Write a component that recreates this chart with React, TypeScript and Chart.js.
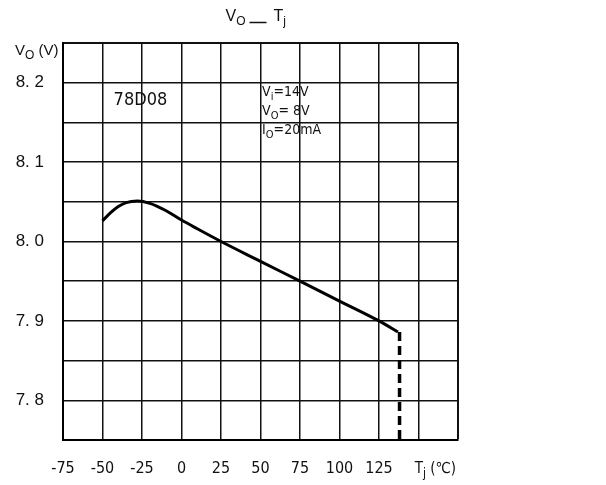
import React, { useEffect, useRef } from 'react';
import { Chart, registerables } from 'chart.js';

Chart.register(...registerables);

// ---- data ----
const curveTemps = [-50, -45, -40, -35, -28, -20, -10, 0, 10, 25, 50, 75, 100, 125, 137];
const curveVolts = [8.026, 8.036, 8.044, 8.049, 8.051, 8.048, 8.039, 8.027, 8.016, 8.0, 7.975, 7.95, 7.925, 7.9, 7.886];
const cutoffTemps = [138, 138];
const cutoffVolts = [7.886, 7.75];
const xTickValues = [-75, -50, -25, 0, 25, 50, 75, 100, 125, 150, 175];
const xTickLabels = ['-75', '-50', '-25', '0', '25', '50', '75', '100', '125', '', ''];
const yTickValues = [7.8, 7.9, 8.0, 8.1, 8.2];
const yTickLabels = ['7. 8', '7. 9', '8. 0', '8. 1', '8. 2'];
const partName = '78D08';
const conditions = [
  [['V', false], ['i', true], ['=14V', false]],
  [['V', false], ['O', true], ['= 8V', false]],
  [['I', false], ['O', true], ['=20mA', false]],
] as [string, boolean][][];

const NARROW = "'Liberation Sans Narrow', 'DejaVu Sans Condensed', sans-serif";
const SANS = "'Liberation Sans', Arial, sans-serif";

function drawRich(
  ctx: CanvasRenderingContext2D,
  parts: [string, boolean][],
  x: number,
  y: number,
  size: number,
  family: string,
  align: 'left' | 'center' | 'right'
) {
  const subSize = Math.round(size * 0.78);
  let total = 0;
  const widths: number[] = [];
  for (const [t, sub] of parts) {
    ctx.font = `${sub ? subSize : size}px ${family}`;
    const w = ctx.measureText(t).width;
    widths.push(w);
    total += w;
  }
  let cx = align === 'left' ? x : align === 'center' ? x - total / 2 : x - total;
  ctx.textAlign = 'left';
  ctx.textBaseline = 'alphabetic';
  parts.forEach(([t, sub], i) => {
    ctx.font = `${sub ? subSize : size}px ${family}`;
    ctx.fillText(t, cx, sub ? y + size * 0.28 : y);
    cx += widths[i];
  });
}

const textPlugin = {
  id: 'datasheetText',
  afterDraw(chart: any) {
    const ctx: CanvasRenderingContext2D = chart.ctx;
    const xs = chart.scales.x;
    const ys = chart.scales.y;
    const area = chart.chartArea;
    ctx.save();
    ctx.fillStyle = '#111';
    ctx.strokeStyle = '#111';

    // title  V_O ___ T_j
    const cx = (area.left + area.right) / 2 - 2;
    drawRich(ctx, [['V', false], ['O', true]], cx - 13, 21, 16, SANS, 'right');
    ctx.lineWidth = 1.5;
    ctx.beginPath();
    ctx.moveTo(cx - 9, 22.5);
    ctx.lineTo(cx + 8, 22.5);
    ctx.stroke();
    drawRich(ctx, [['T', false], ['j', true]], cx + 15, 21, 16, SANS, 'left');

    // y axis title
    drawRich(ctx, [['V', false], ['O', true], [' (V)', false]], 15, 55, 15, SANS, 'left');

    // x axis title
    drawRich(ctx, [['T', false], ['j', true], [' (℃)', false]], area.right - 2, 473, 15, NARROW, 'right');

    // part name
    ctx.font = `18px ${NARROW}`;
    ctx.textAlign = 'center';
    ctx.textBaseline = 'middle';
    ctx.fillText(partName, xs.getPixelForValue(-26), ys.getPixelForValue(8.178));

    // conditions
    const lx = xs.getPixelForValue(51);
    conditions.forEach((line, i) => {
      drawRich(ctx, line, lx, ys.getPixelForValue(8.2) + 13 + i * 19, 14, NARROW, 'left');
    });
    ctx.restore();
  },
};

export default function App() {
  const ref = useRef<HTMLCanvasElement | null>(null);

  useEffect(() => {
    if (!ref.current) return;
    const edgeWidth = (ctx: any, max: number) =>
      Math.abs(ctx.tick.value - max) < 1e-6 ? 2 : 1.5;
    const chart = new Chart(ref.current, {
      type: 'scatter',
      data: {
        datasets: [
          {
            data: curveTemps.map((t, i) => ({ x: t, y: curveVolts[i] })),
            showLine: true,
            borderColor: '#000',
            borderWidth: 3,
            pointRadius: 0,
            cubicInterpolationMode: 'monotone',
            fill: false,
          },
          {
            data: cutoffTemps.map((t, i) => ({ x: t, y: cutoffVolts[i] })),
            showLine: true,
            borderColor: '#000',
            borderWidth: 3.5,
            borderDash: [9, 5],
            pointRadius: 0,
            fill: false,
          },
        ],
      },
      options: {
        animation: false,
        responsive: false,
        maintainAspectRatio: false,
        layout: { padding: { top: 43, right: 148, bottom: 0, left: 0 } },
        plugins: {
          legend: { display: false },
          tooltip: { enabled: false },
          title: { display: false },
        },
        scales: {
          x: {
            type: 'linear',
            min: -75,
            max: 175,
            afterFit: (s: any) => {
              s.height = 45;
            },
            afterBuildTicks: (s: any) => {
              s.ticks = xTickValues.map((v) => ({ value: v }));
            },
            ticks: {
              autoSkip: false,
              maxRotation: 0,
              padding: 19,
              color: '#111',
              font: { family: NARROW, size: 16 },
              callback: (v: any) => {
                const i = xTickValues.findIndex((t) => Math.abs(t - Number(v)) < 1e-6);
                return i >= 0 ? xTickLabels[i] : '';
              },
            },
            grid: {
              color: '#111',
              lineWidth: (ctx: any) => edgeWidth(ctx, 175),
              drawTicks: false,
            },
            border: { color: '#000', width: 2 },
          },
          y: {
            type: 'linear',
            min: 7.75,
            max: 8.25,
            afterFit: (s: any) => {
              s.width = 63;
            },
            afterBuildTicks: (s: any) => {
              const arr = [];
              for (let i = 0; i <= 10; i++) arr.push({ value: Math.round((7.75 + i * 0.05) * 1000) / 1000 });
              s.ticks = arr;
            },
            ticks: {
              autoSkip: false,
              padding: 19,
              color: '#111',
              font: { family: SANS, size: 17 },
              callback: (v: any) => {
                const i = yTickValues.findIndex((t) => Math.abs(t - Number(v)) < 1e-6);
                return i >= 0 ? yTickLabels[i] : '';
              },
            },
            grid: {
              color: '#111',
              lineWidth: (ctx: any) => edgeWidth(ctx, 8.25),
              drawTicks: false,
            },
            border: { color: '#000', width: 2 },
          },
        },
      },
      plugins: [textPlugin],
    } as any);
    return () => chart.destroy();
  }, []);

  return (
    <div style={{ position: 'fixed', left: 0, top: 0, width: 606, height: 485, background: '#fff' }}>
      <canvas ref={ref} width={606} height={485} style={{ width: 606, height: 485, display: 'block' }} />
    </div>
  );
}
